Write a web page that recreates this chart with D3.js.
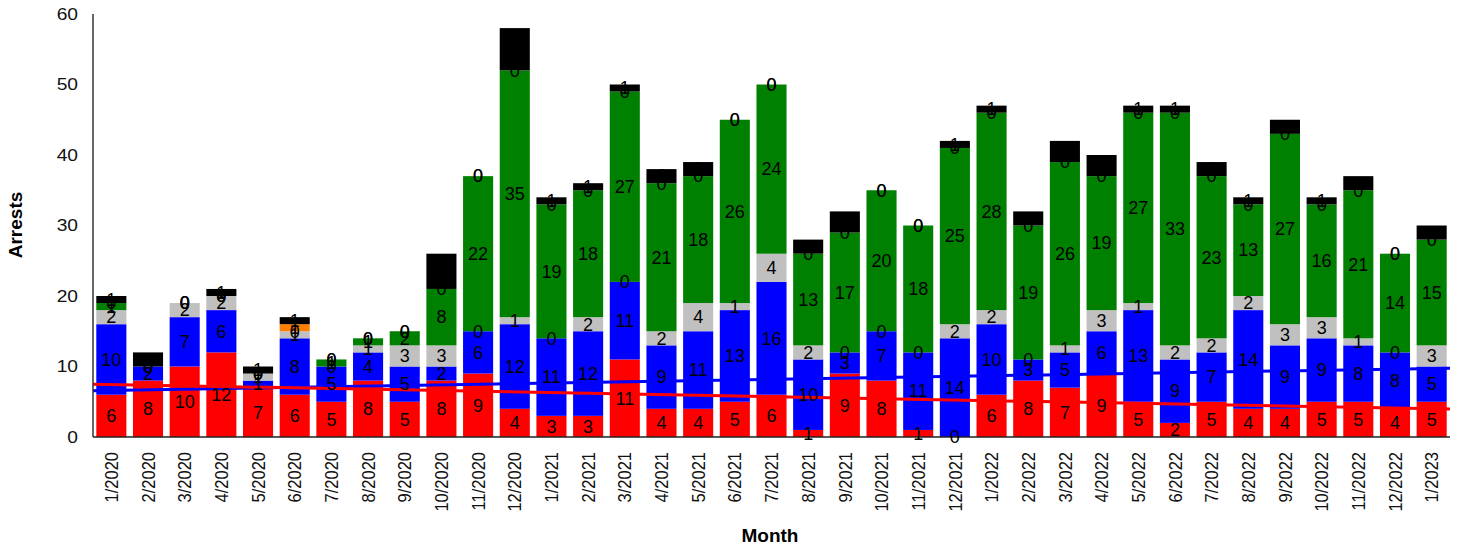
<!DOCTYPE html>
<html>
<head>
<meta charset="utf-8">
<script src="https://cdn.jsdelivr.net/npm/d3@7"></script>
<style>
  body { margin: 0; background: #fff; }
  text { font-family: "Liberation Sans", Arial, sans-serif; }
</style>
</head>
<body>
<div id="chart"></div>
<script>
// months on the x axis
const months = ['1/2020','2/2020','3/2020','4/2020','5/2020','6/2020','7/2020','8/2020','9/2020','10/2020',
  '11/2020','12/2020','1/2021','2/2021','3/2021','4/2021','5/2021','6/2021','7/2021','8/2021','9/2021',
  '10/2021','11/2021','12/2021','1/2022','2/2022','3/2022','4/2022','5/2022','6/2022','7/2022','8/2022',
  '9/2022','10/2022','11/2022','12/2022','1/2023'];

// stacked series, bottom to top
const redVals    = [6,8,10,12,7,6,5,8,5,8,9,4,3,3,11,4,4,5,6,1,9,8,1,0,6,8,7,9,5,2,5,4,4,5,5,4,5];
const blueVals   = [10,2,7,6,1,8,5,4,5,2,6,12,11,12,11,9,11,13,16,10,3,7,11,14,10,3,5,6,13,9,7,14,9,9,8,8,5];
const grayVals   = [2,0,2,2,1,1,0,1,3,3,0,1,0,2,0,2,4,1,4,2,0,0,0,2,2,0,1,3,1,2,2,2,3,3,1,0,3];
const greenVals  = [1,0,0,0,0,0,1,1,2,8,22,35,19,18,27,21,18,26,24,13,17,20,18,25,28,19,26,19,27,33,23,13,27,16,21,14,15];
const orangeVals = [0,0,0,0,0,1,0,0,0,0,0,0,0,0,0,0,0,0,0,0,0,0,0,0,0,0,0,0,0,0,0,0,0,0,0,0,0];
const blackVals  = [1,2,0,1,1,1,0,0,0,5,0,6,1,1,1,2,2,0,0,2,3,0,0,1,1,2,3,3,1,1,2,1,2,1,2,0,2];

const yTicks = [0,10,20,30,40,50,60];

const series = [
  { key: 'red', values: redVals, color: '#ff0000' },
  { key: 'blue', values: blueVals, color: '#0000ff' },
  { key: 'gray', values: grayVals, color: '#c0c0c0' },
  { key: 'green', values: greenVals, color: '#008000' },
  { key: 'orange', values: orangeVals, color: '#ff8000' },
  { key: 'black', values: blackVals, color: '#000000' }
];

const width = 1458, height = 548;
const plotLeft = 93, plotRight = 1450, plotTop = 14, plotBottom = 437;

const svg = d3.select('#chart').append('svg')
  .attr('width', width)
  .attr('height', height);

const x = d3.scaleBand().domain(months).range([plotLeft, plotRight])
  .paddingInner(0.18).paddingOuter(0.09);
const y = d3.scaleLinear().domain([0, 60]).range([plotBottom, plotTop]);

// build stack table
const table = months.map((m, i) => {
  const row = { month: m };
  series.forEach(s => { row[s.key] = s.values[i]; });
  return row;
});
const stacked = d3.stack().keys(series.map(s => s.key))(table);

// bars
stacked.forEach((layer, si) => {
  svg.append('g')
    .selectAll('rect')
    .data(layer)
    .enter().append('rect')
    .attr('x', d => x(d.data.month))
    .attr('width', x.bandwidth())
    .attr('y', d => y(d[1]))
    .attr('height', d => y(d[0]) - y(d[1]))
    .attr('fill', series[si].color);
});

// linear trend lines for red and blue
function trend(vals, color) {
  const n = vals.length;
  const mx = d3.mean(vals, (v, i) => i);
  const my = d3.mean(vals);
  let sxy = 0, sxx = 0;
  vals.forEach((v, i) => { sxy += (i - mx) * (v - my); sxx += (i - mx) * (i - mx); });
  const b = sxy / sxx, a = my - b * mx;
  const xi = i => x(months[0]) + x.bandwidth() / 2 + i * x.step();
  const ends = [-0.5, n - 0.5];
  svg.append('path')
    .attr('d', d3.line().x(i => xi(i)).y(i => y(a + b * i))(ends))
    .attr('stroke', color)
    .attr('stroke-width', 3)
    .attr('fill', 'none');
}
trend(blueVals, '#0000ff');
trend(redVals, '#ff0000');

// axes
svg.append('line')
  .attr('x1', plotLeft).attr('x2', plotLeft).attr('y1', plotTop).attr('y2', plotBottom)
  .attr('stroke', '#333').attr('stroke-width', 1.5);
svg.append('line')
  .attr('x1', plotLeft).attr('x2', plotRight).attr('y1', plotBottom).attr('y2', plotBottom)
  .attr('stroke', '#222').attr('stroke-width', 1.5);

// tick labels are a bit wider than plain Arial in the reference
svg.append('g').selectAll('text')
  .data(yTicks)
  .enter().append('text')
  .attr('transform', d => `translate(78,${y(d)}) scale(1.2,1)`)
  .attr('dy', '0.35em')
  .attr('text-anchor', 'end')
  .attr('font-size', 16)
  .attr('fill', '#111')
  .text(d => d);

svg.append('g').selectAll('text')
  .data(months)
  .enter().append('text')
  .attr('transform', d => `translate(${x(d) + x.bandwidth() / 2},452) rotate(-90) scale(1,1.15)`)
  .attr('dy', '0.35em')
  .attr('text-anchor', 'end')
  .attr('font-size', 16.5)
  .attr('fill', '#111')
  .text(d => d);

// data labels on top of everything
stacked.forEach(layer => {
  svg.append('g')
    .selectAll('text')
    .data(layer)
    .enter().append('text')
    .attr('x', d => x(d.data.month) + x.bandwidth() / 2)
    .attr('y', d => y((d[0] + d[1]) / 2))
    .attr('dy', '0.35em')
    .attr('text-anchor', 'middle')
    .attr('font-size', 18)
    .attr('fill', '#000')
    .text(d => d[1] - d[0]);
});

// axis titles
svg.append('text')
  .attr('transform', 'translate(22,225) rotate(-90)')
  .attr('text-anchor', 'middle')
  .attr('font-size', 19)
  .attr('font-weight', 'bold')
  .text('Arrests');

svg.append('text')
  .attr('x', 770)
  .attr('y', 542)
  .attr('text-anchor', 'middle')
  .attr('font-size', 19)
  .attr('font-weight', 'bold')
  .text('Month');
</script>
</body>
</html>
